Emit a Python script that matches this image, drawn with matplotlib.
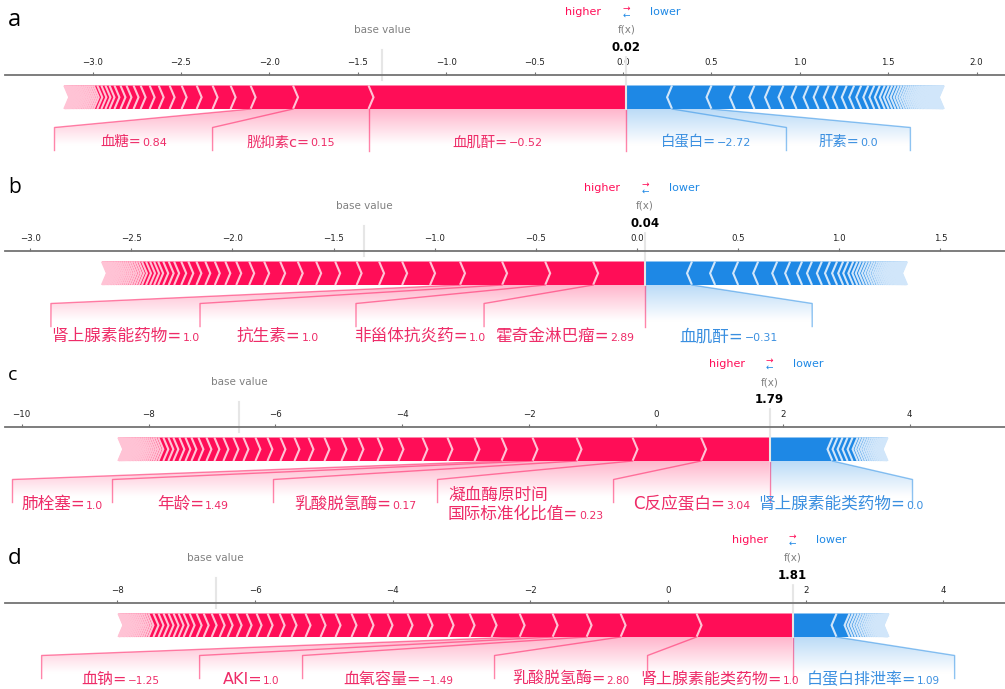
import numpy as np
import matplotlib
matplotlib.use("Agg")
import matplotlib.pyplot as plt
from matplotlib.lines import Line2D
from matplotlib.path import Path
from matplotlib.patches import PathPatch, Polygon
from matplotlib.colors import LinearSegmentedColormap
from matplotlib.ticker import MaxNLocator

# ----------------------------- data -----------------------------
# panel a
a_base_value = -1.36
a_output_value = 0.02
a_pos_shap = [1.459, 0.427, 0.240, 0.113, 0.102, 0.090, 0.085, 0.068, 0.062, 0.051,
              0.051, 0.040, 0.040, 0.034, 0.034, 0.028, 0.023, 0.023, 0.023, 0.020,
              0.012, 0.012, 0.011, 0.011, 0.010, 0.010, 0.010, 0.009, 0.009, 0.009,
              0.008, 0.008, 0.008, 0.007, 0.007, 0.006, 0.006, 0.005, 0.005, 0.004]
a_neg_shap = [0.258, 0.223, 0.132, 0.111, 0.088, 0.076, 0.074, 0.068, 0.057, 0.057,
              0.051, 0.051, 0.042, 0.040, 0.040, 0.034, 0.031, 0.028,
              0.022, 0.020, 0.019, 0.018, 0.016, 0.015, 0.014, 0.013, 0.012, 0.011,
              0.011, 0.010, 0.010, 0.009, 0.009, 0.008, 0.008, 0.008, 0.007, 0.007,
              0.007, 0.006, 0.006, 0.006, 0.005, 0.005, 0.005, 0.005, 0.004, 0.004,
              0.004, 0.004, 0.004, 0.003, 0.003, 0.003, 0.003, 0.003, 0.003, 0.002, 0.002]
a_pos_names = ["血肌酐", "胱抑素c", "血糖"]
a_pos_values = ["\u22120.52", "0.15", "0.84"]
a_neg_names = ["白蛋白", "肝素"]
a_neg_values = ["\u22122.72", "0.0"]

# panel b
b_base_value = -1.35
b_output_value = 0.04
b_pos_shap = [0.257, 0.237, 0.213, 0.208, 0.148, 0.138, 0.114, 0.111, 0.106, 0.094,
              0.091, 0.087, 0.079, 0.074, 0.064, 0.054, 0.052, 0.047, 0.044, 0.040,
              0.035, 0.035, 0.027, 0.027, 0.025, 0.020, 0.020, 0.020, 0.020, 0.015,
              0.013, 0.012, 0.012, 0.011, 0.011, 0.010, 0.010, 0.010, 0.009, 0.009,
              0.009, 0.008, 0.008, 0.008, 0.007, 0.007, 0.007, 0.006, 0.006, 0.005, 0.005]
b_neg_shap = [0.232, 0.114, 0.114, 0.099, 0.094, 0.064, 0.059, 0.049, 0.049, 0.040,
              0.035, 0.030, 0.025, 0.025, 0.020,
              0.017, 0.016, 0.015, 0.014, 0.013, 0.012, 0.012, 0.011, 0.010, 0.010,
              0.009, 0.009, 0.008, 0.008, 0.007, 0.007, 0.007, 0.006, 0.006, 0.006,
              0.005, 0.005, 0.005, 0.004, 0.004, 0.004, 0.004, 0.003, 0.003, 0.003, 0.003]
b_pos_names = ["霍奇金淋巴瘤", "非甾体抗炎药", "抗生素", "肾上腺素能药物"]
b_pos_values = ["2.89", "1.0", "1.0", "1.0"]
b_neg_names = ["血肌酐"]
b_neg_values = ["\u22120.31"]

# panel c
c_base_value = -6.57
c_output_value = 1.79
c_pos_shap = [1.080, 1.080, 0.883, 0.694, 0.489, 0.426, 0.426, 0.394, 0.378, 0.331,
              0.300, 0.268, 0.268, 0.252, 0.221, 0.221, 0.205, 0.189, 0.189, 0.158,
              0.158, 0.142, 0.126, 0.126, 0.110, 0.095, 0.095, 0.095, 0.079, 0.079, 0.079,
              0.040, 0.038, 0.036, 0.035, 0.033, 0.032, 0.030, 0.029, 0.028, 0.027,
              0.026, 0.025, 0.024, 0.023, 0.022, 0.021, 0.020, 0.019, 0.018, 0.017,
              0.016, 0.015, 0.014, 0.013, 0.012, 0.011, 0.007]
c_neg_shap = [0.993, 0.079, 0.079, 0.079, 0.079, 0.079,
              0.045, 0.042, 0.040, 0.038, 0.036, 0.034, 0.032, 0.030, 0.028, 0.026,
              0.024, 0.022, 0.020, 0.018, 0.016, 0.014, 0.008]
c_pos_names = ["C反应蛋白", "凝血酶原时间\n国际标准化比值", "乳酸脱氢酶", "年龄", "肺栓塞"]
c_pos_values = ["3.04", "0.23", "0.17", "1.49", "1.0"]
c_neg_names = ["肾上腺素能类药物"]
c_neg_values = ["0.0"]

# panel d
d_base_value = -6.57
d_output_value = 1.81
d_pos_shap = [1.395, 1.104, 0.494, 0.494, 0.479, 0.407, 0.320, 0.305, 0.305, 0.291,
              0.291, 0.276, 0.247, 0.232, 0.218, 0.218, 0.203, 0.174, 0.174, 0.160,
              0.145, 0.145, 0.131, 0.116, 0.116, 0.116, 0.102, 0.102, 0.087, 0.073,
              0.073, 0.073, 0.073, 0.073, 0.073, 0.073,
              0.036, 0.034, 0.032, 0.031, 0.029, 0.028, 0.027, 0.026, 0.025, 0.024,
              0.023, 0.022, 0.021, 0.020, 0.019, 0.018, 0.016, 0.005]
d_neg_shap = [0.639, 0.189,
              0.045, 0.043, 0.041, 0.039, 0.037, 0.035, 0.033, 0.031, 0.029, 0.027,
              0.025, 0.023, 0.021, 0.019, 0.017, 0.015, 0.013, 0.011, 0.009, 0.007,
              0.006, 0.006, 0.005, 0.005, 0.005, 0.005, 0.005, 0.005, 0.005]
d_pos_names = ["肾上腺素能类药物", "乳酸脱氢酶", "血氧容量", "AKI", "血钠"]
d_pos_values = ["1.0", "2.80", "\u22121.49", "1.0", "\u22121.25"]
d_neg_names = ["白蛋白排泄率"]
d_neg_values = ["1.09"]

# ----------------------------- layout -----------------------------
W, H = 1005, 689
RED, RED_LIGHT = "#FF0D57", "#FFC3D5"
BLUE, BLUE_LIGHT = "#1E88E5", "#D1E6FA"
RED_TXT, BLUE_TXT = "#EE2C68", "#3A8FE0"
NAME_FAMILY = ["DejaVu Sans", "Noto Sans CJK SC"]

BAR_TOP = 23.5      # vertical units are pixels, 0 = bar bottom
SPINE_Y = 34.0
BEND_Y = -18.5
LINE_END_Y = -41.5
SHADE_BOT = -46.0
SHADE_EXT = -71.0
AX_BOTTOM = -75.0
SEP_LW = 1.5

panels = [
    dict(letter="a", letter_pt=17, letter_y=19.5, spine=75, xlim=(-3.495, 2.161),
         base=a_base_value, fx=a_output_value, pos=a_pos_shap, neg=a_neg_shap,
         pos_names=a_pos_names, pos_values=a_pos_values,
         neg_names=a_neg_names, neg_values=a_neg_values,
         pos_span=[0.90, 0.882, 0.894], neg_span=[0.905, 0.701],
         label_y=-32, name_pt=10.4, val_pt=8.0),
    dict(letter="b", letter_pt=15, letter_y=188, spine=251, xlim=(-3.124, 1.819),
         base=b_base_value, fx=b_output_value, pos=b_pos_shap, neg=b_neg_shap,
         pos_names=b_pos_names, pos_values=b_pos_values,
         neg_names=b_neg_names, neg_values=b_neg_values,
         pos_span=[0.796, 0.633, 0.771, 0.737], neg_span=[0.826],
         label_y=-50, name_pt=12, val_pt=7.8),
    dict(letter="c", letter_pt=14, letter_y=375, spine=427, xlim=(-10.263, 5.502),
         base=c_base_value, fx=c_output_value, pos=c_pos_shap, neg=c_neg_shap,
         pos_names=c_pos_names, pos_values=c_pos_values,
         neg_names=c_neg_names, neg_values=c_neg_values,
         pos_span=[2.459, 2.775, 2.586, 2.538, 1.577], neg_span=[2.254],
         label_y=-42, name_pt=12, val_pt=7.8),
    dict(letter="d", letter_pt=16, letter_y=558, spine=603, xlim=(-9.632, 4.896),
         base=d_base_value, fx=d_output_value, pos=d_pos_shap, neg=d_neg_shap,
         pos_names=d_pos_names, pos_values=d_pos_values,
         neg_names=d_neg_names, neg_values=d_neg_values,
         pos_span=[2.107, 2.223, 2.789, 1.496, 2.295], neg_span=[2.354],
         label_y=-41, name_pt=11.5, val_pt=7.5),
]


def draw_bars(ax, fx, vals, kind, wsep):
    vals = np.asarray(vals, dtype=float)
    if kind == "positive":
        sgn, ind, col, lcol = -1, abs(wsep), RED, RED_LIGHT
    else:
        sgn, ind, col, lcol = 1, -abs(wsep), BLUE, BLUE_LIGHT
    ends = fx + sgn * np.cumsum(vals)
    starts = np.concatenate([[fx], ends[:-1]])
    seps = []
    mid = BAR_TOP / 2
    for i, (s, e) in enumerate(zip(starts, ends)):
        if kind == "positive":
            left, right, sep = e, s, e
        else:
            left, right, sep = s, e, e
        if i == 0:
            if kind == "positive":
                pts = [[left, 0], [right, 0], [right, BAR_TOP], [left, BAR_TOP], [left + ind, mid]]
            else:
                pts = [[right, 0], [left, 0], [left, BAR_TOP], [right, BAR_TOP], [right + ind, mid]]
        else:
            pts = [[left, 0], [right, 0], [right + ind * 0.9, mid], [right, BAR_TOP],
                   [left, BAR_TOP], [left + ind * 0.9, mid]]
        ax.add_patch(Polygon(pts, closed=True, facecolor=col, linewidth=0))
        seps.append([[sep, 0], [sep + ind, mid], [sep, BAR_TOP]])
    for s in seps:
        ax.add_patch(Polygon(s, closed=False, fill=False, edgecolor=lcol, lw=SEP_LW))


def place_label(ax, renderer, xc, yc, name, value, color, name_pt, val_pt):
    rows = name.split("\n")
    n = len(rows)
    pxu = ax.transData.transform((1, 0))[0] - ax.transData.transform((0, 0))[0]
    arts, widths = [], []
    for k, row in enumerate(rows):
        yk = yc + ((n - 1) / 2 - k) * 19
        yb = yk - 0.37 * name_pt * 100 / 72
        if k == n - 1:
            t1 = ax.text(0, yb, row + "=", fontsize=name_pt, family=NAME_FAMILY, color=color,
                         ha="left", va="baseline", clip_on=False)
            t2 = ax.text(0, yb, value, fontsize=val_pt, family="DejaVu Sans", color=color,
                         ha="left", va="baseline", clip_on=False)
            w1 = t1.get_window_extent(renderer).width
            w2 = t2.get_window_extent(renderer).width
            arts.append((t1, t2, w1))
            widths.append(w1 + w2 + 1)
        else:
            t1 = ax.text(0, yb, row, fontsize=name_pt, family=NAME_FAMILY, color=color,
                         ha="left", va="baseline", clip_on=False)
            w1 = t1.get_window_extent(renderer).width
            arts.append((t1, None, w1))
            widths.append(w1)
    block = max(widths)
    left = xc - block / 2 / pxu
    for t1, t2, w1 in arts:
        t1.set_x(left)
        if t2 is not None:
            t2.set_x(left + (w1 + 1) / pxu)


def draw_labels(ax, renderer, fx, vals, names, values, spans, kind, p):
    vals = np.asarray(vals, dtype=float)
    if kind == "positive":
        sgn, col, tcol, rgb = -1, RED, RED_TXT, (255, 13, 87)
        ax.add_line(Line2D([fx, fx], [0, LINE_END_Y], lw=1, alpha=0.5, color=col, clip_on=False))
    else:
        sgn, col, tcol, rgb = 1, BLUE, BLUE_TXT, (30, 136, 229)
    ends = fx + sgn * np.cumsum(vals)
    start = fx
    box_end = fx
    pre_val = fx
    for i, (nm, vv, sp) in enumerate(zip(names, values, spans)):
        val = ends[i]
        cand = start + sgn * sp
        if sgn * cand < sgn * val:
            ax.add_line(Line2D([val, val], [0, LINE_END_Y], lw=1, alpha=0.5, color=col, clip_on=False))
            new_end = val
        else:
            ax.add_line(Line2D([val, cand, cand], [0, BEND_Y, LINE_END_Y], lw=1, alpha=0.5,
                               color=col, clip_on=False))
            new_end = cand
        place_label(ax, renderer, (start + new_end) / 2, p["label_y"], nm, vv, tcol,
                    p["name_pt"], p["val_pt"])
        start = new_end
        box_end = new_end
        pre_val = val
    path = Path([[fx, 0], [pre_val, 0], [box_end, BEND_Y], [box_end, SHADE_BOT],
                 [fx, SHADE_BOT], [fx, 0]])
    patch = PathPatch(path, facecolor="none", edgecolor="none")
    ax.add_patch(patch)
    cm = LinearSegmentedColormap.from_list("cm", [np.array(rgb) / 255.0, (1, 1, 1)])
    _, Z2 = np.meshgrid(np.linspace(0, 10), np.linspace(-10, 10))
    im = ax.imshow(Z2, interpolation="quadric", cmap=cm, vmax=0.01, alpha=0.3,
                   origin="lower", extent=[fx, box_end, 0, SHADE_EXT], aspect="auto", zorder=0)
    im.set_clip_path(patch)


fig = plt.figure(figsize=(W / 100, H / 100), dpi=100)
fig.patch.set_facecolor("white")
renderer = fig.canvas.get_renderer()

for p in panels:
    S = p["spine"]
    ax_h = SPINE_Y - AX_BOTTOM
    ax = fig.add_axes([5 / W, (H - S - ax_h) / H, 1000 / W, ax_h / H])
    ax.set_facecolor("none")
    ax.set_xlim(*p["xlim"])
    ax.set_ylim(AX_BOTTOM, SPINE_Y)
    ax.set_autoscale_on(False)
    for k, sp in ax.spines.items():
        sp.set_visible(k == "top")
    ax.spines["top"].set_color("#737373")
    ax.spines["top"].set_linewidth(1.3)
    ax.xaxis.set_ticks_position("top")
    ax.xaxis.set_major_locator(MaxNLocator(nbins=12, steps=[1, 2, 2.5, 5, 10]))
    ax.tick_params(axis="x", which="both", top=True, bottom=False, labeltop=True,
                   labelbottom=False, length=2.5, width=0.8, color="#737373", pad=3.2,
                   labelsize=6.2, labelcolor="#222222")
    ax.tick_params(axis="y", left=False, labelleft=False)

    fx = p["fx"]
    wsep = (p["xlim"][1] - p["xlim"][0]) / 200
    draw_bars(ax, fx, p["neg"], "negative", wsep)
    draw_bars(ax, fx, p["pos"], "positive", wsep)
    draw_labels(ax, renderer, fx, p["neg"], p["neg_names"], p["neg_values"], p["neg_span"],
                "negative", p)
    draw_labels(ax, renderer, fx, p["pos"], p["pos_names"], p["pos_values"], p["pos_span"],
                "positive", p)

    # higher / lower legend
    ax.annotate("higher", xy=(fx, 97), xytext=(-18, 0), textcoords="offset points",
                ha="right", va="center", fontsize=8, color=RED, annotation_clip=False)
    ax.annotate("lower", xy=(fx, 97), xytext=(17, 0), textcoords="offset points",
                ha="left", va="center", fontsize=8, color=BLUE, annotation_clip=False)
    ax.text(fx, 101, r"$\rightarrow$", fontsize=6.5, color=RED, ha="center", va="center",
            clip_on=False)
    ax.text(fx, 93.5, r"$\leftarrow$", fontsize=6.5, color=BLUE, ha="center", va="center",
            clip_on=False)

    # base value
    base = p["base"]
    ax.add_line(Line2D([base, base], [29, 59], lw=1.5, color="#E6E6E6", clip_on=False))
    ax.text(base, 79, "base value", fontsize=7.5, alpha=0.5, ha="center", va="center",
            clip_on=False, bbox=dict(facecolor="white", edgecolor="white", pad=0.5))

    # output value
    ax.add_line(Line2D([fx, fx], [0, 55], lw=1.5, color="#E6E6E6", clip_on=False))
    ax.text(fx, 61.5, "{0:.2f}".format(fx), fontsize=8.5, fontweight="bold", ha="center",
            va="center", clip_on=False,
            bbox=dict(facecolor="white", edgecolor="white", pad=0.5))
    ax.text(fx, 79, "f(x)", fontsize=7.5, alpha=0.5, ha="center", va="center",
            clip_on=False, bbox=dict(facecolor="white", edgecolor="white", pad=0.5))

    ax.set_xlim(*p["xlim"])
    ax.set_ylim(AX_BOTTOM, SPINE_Y)

    fig.text(8 / W, 1 - p["letter_y"] / H, p["letter"], fontsize=p["letter_pt"],
             family="Open Sans", ha="left", va="center", color="black")

fig.savefig("out.png", dpi=100, facecolor="white")
